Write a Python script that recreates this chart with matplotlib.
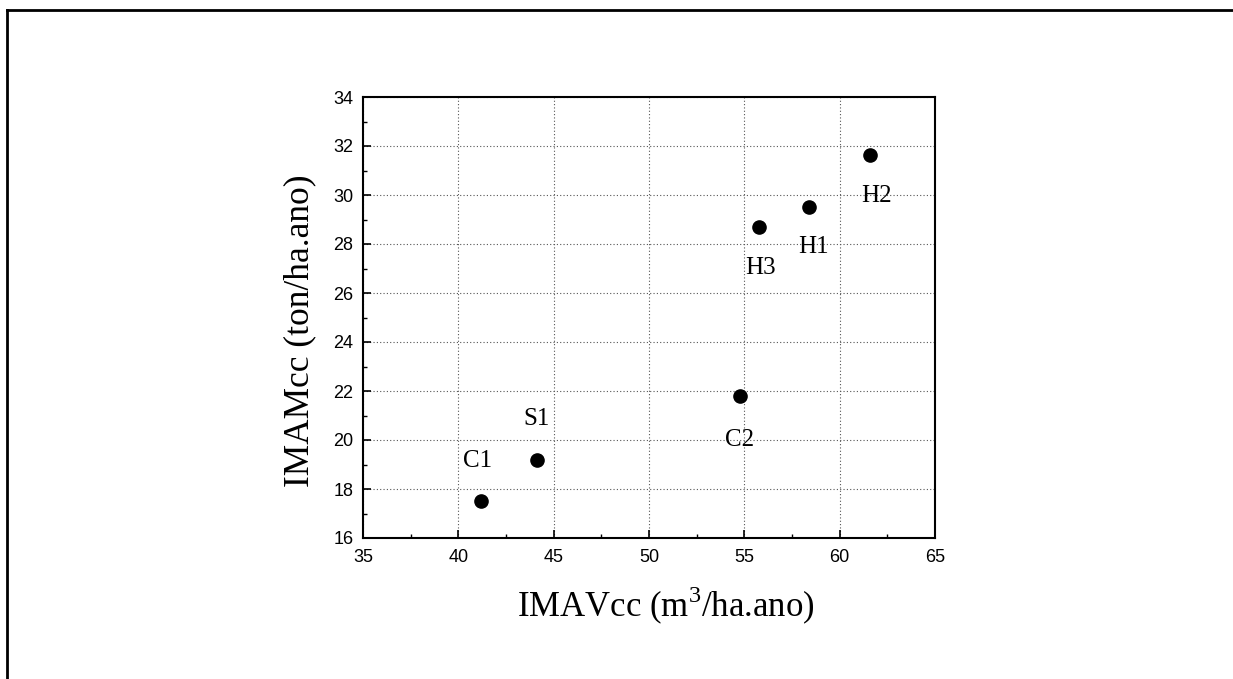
import matplotlib
matplotlib.use("Agg")
import matplotlib.pyplot as plt
from matplotlib.lines import Line2D
from matplotlib.ticker import MultipleLocator

names = ["C1", "S1", "C2", "H3", "H1", "H2"]
imavcc = [41.2, 44.1, 54.75, 55.75, 58.4, 61.6]
imamcc = [17.5, 19.2, 21.8, 28.7, 29.5, 31.63]
label_offsets_px = [(-4, 40), (0, 41), (0, -44), (2, -41), (4, -40), (6, -41)]

W, H = 1233, 679
fig = plt.figure(figsize=(W / 100, H / 100), dpi=100)
fig.patch.set_facecolor("white")

# outer frame
fig.add_artist(Line2D([7 / W, 1.0], [1 - 10 / H, 1 - 10 / H], transform=fig.transFigure, color="black", lw=2))
fig.add_artist(Line2D([7 / W, 7 / W], [0, 1 - 10 / H], transform=fig.transFigure, color="black", lw=2))

left, right, top, bottom = 363, 935, 97, 538
ax = fig.add_axes([left / W, 1 - bottom / H, (right - left) / W, (bottom - top) / H])
ax.set_xlim(35, 65)
ax.set_ylim(16, 34)
ax.xaxis.set_major_locator(MultipleLocator(5))
ax.xaxis.set_minor_locator(MultipleLocator(2.5))
ax.yaxis.set_major_locator(MultipleLocator(2))
ax.yaxis.set_minor_locator(MultipleLocator(1))

ax.grid(True, which="major", linestyle=(0, (1, 2)), color="#555555", lw=0.8)
ax.set_axisbelow(True)

for s in ax.spines.values():
    s.set_linewidth(1.5)

ax.tick_params(which="major", direction="in", length=6, width=1.2,
               labelsize=13, pad=8)
ax.tick_params(which="minor", direction="in", length=3, width=1)
ax.tick_params(axis="y", which="major", pad=7)
for lab in ax.get_xticklabels() + ax.get_yticklabels():
    lab.set_fontfamily("Liberation Sans")

ax.plot(imavcc, imamcc, "o", color="black", markersize=9.5, zorder=3)

for n, x, y, (dx, dy) in zip(names, imavcc, imamcc, label_offsets_px):
    ax.annotate(n, (x, y), xytext=(dx * 0.72, dy * 0.72), textcoords="offset points",
                ha="center", va="center", fontsize=18, fontfamily="Liberation Serif")

plt.rcParams["mathtext.fontset"] = "custom"
plt.rcParams["mathtext.rm"] = "Liberation Serif"
plt.rcParams["mathtext.it"] = "Liberation Serif:italic"
ax.set_xlabel("IMAVcc (m$^\\mathregular{3}$/ha.ano)", fontsize=25, fontfamily="Liberation Serif")
ax.set_ylabel("IMAMcc (ton/ha.ano)", fontsize=25.5, fontfamily="Liberation Serif")
ax.xaxis.set_label_coords(0.53, -0.107)
ax.yaxis.set_label_coords(-0.082, 0.47)

fig.savefig("out.png", dpi=100, facecolor="white")
